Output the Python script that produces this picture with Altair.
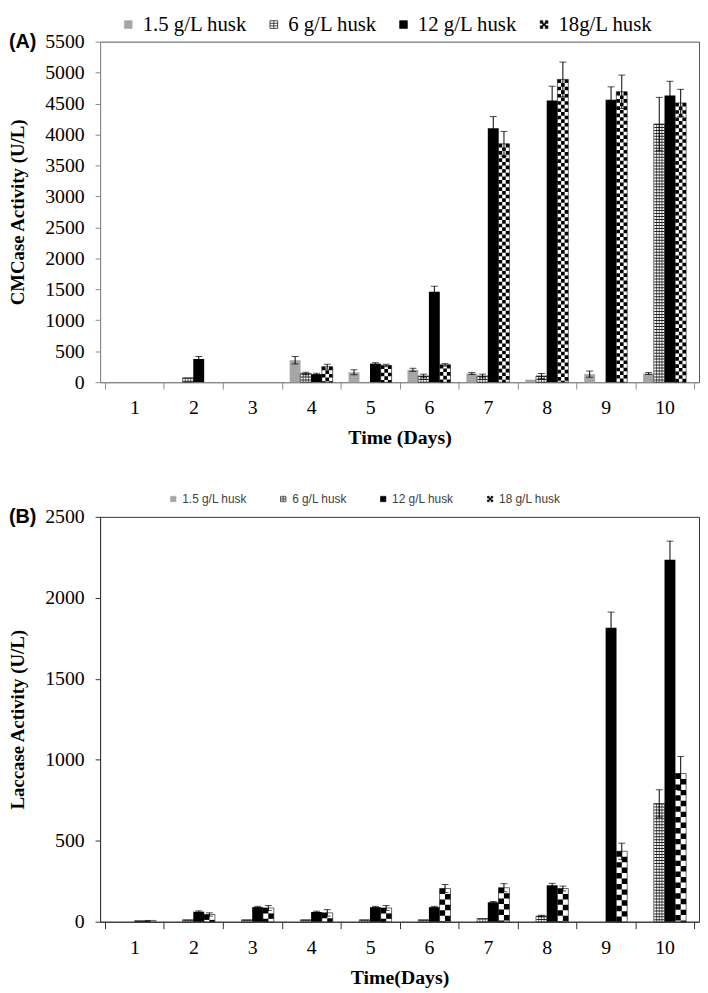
import altair as alt
import pandas as pd

# ---------------- data ----------------
days = [1, 2, 3, 4, 5, 6, 7, 8, 9, 10]
series_a = ["1.5 g/L husk", "6 g/L husk", "12 g/L husk", "18g/L husk"]
series_b = ["1.5 g/L husk", "6 g/L husk", "12 g/L husk", "18 g/L husk"]

# (A) CMCase activity (U/L)
cmc_15 = [0, 0, 0, 355, 160, 200, 140, 40, 130, 140]
cmc_15_err = [0, 0, 0, 60, 40, 25, 15, 0, 50, 15]
cmc_6 = [0, 70, 0, 140, 0, 100, 100, 100, 0, 4170]
cmc_6_err = [0, 0, 0, 20, 0, 30, 30, 40, 0, 430]
cmc_12 = [0, 375, 0, 130, 300, 1460, 4100, 4550, 4560, 4630]
cmc_12_err = [0, 40, 0, 15, 15, 90, 190, 230, 210, 230]
cmc_18 = [0, 0, 0, 250, 270, 280, 3850, 4890, 4690, 4510]
cmc_18_err = [0, 0, 0, 40, 20, 20, 200, 280, 270, 220]

# (B) Laccase activity (U/L)
lac_15 = [3, 0, 0, 0, 0, 0, 0, 0, 0, 0]
lac_15_err = [0, 0, 0, 0, 0, 0, 0, 0, 0, 0]
lac_6 = [0, 12, 12, 12, 12, 12, 20, 35, 0, 730]
lac_6_err = [0, 0, 0, 0, 0, 0, 0, 5, 0, 85]
lac_12 = [8, 62, 90, 60, 90, 90, 120, 225, 1815, 2235]
lac_12_err = [0, 5, 5, 5, 5, 5, 5, 12, 97, 115]
lac_18 = [8, 45, 85, 55, 85, 205, 210, 205, 435, 915]
lac_18_err = [0, 10, 15, 20, 15, 25, 25, 15, 50, 105]

# ---------------- style ----------------
W = 605
HA = 344
HB = 409
BAR = 11.0           # bar width in px
PX = 10.0 / W        # x-units per pixel
GRAY = "#a6a6a6"
SERIF = "Liberation Serif"
SANS = "Liberation Sans"


def long_frame(series, vals, errs):
    rows = []
    for i, (v, e) in enumerate(zip(vals, errs)):
        for d, val, err in zip(days, v, e):
            rows.append(dict(day=d, idx=i, series=series[i], value=val, err=err))
    return pd.DataFrame(rows)


def panel(df, series, ymax, H, ytitle, xtitle, label, dom_color, frame_color,
          n_cols, legend_def, sym_size):
    xs = alt.Scale(domain=[0.5, 10.5], nice=False, zero=False)
    ys = alt.Scale(domain=[0, ymax], nice=False)
    xaxis = alt.Axis(
        values=[0.5 + 0.5 * k for k in range(21)],
        labelExpr="datum.value % 1 === 0 ? format(datum.value, 'd') : ''",
        tickOpacity={"condition": {"test": "datum.value % 1 !== 0", "value": 1}, "value": 0},
        labelOverlap=False, labelFlush=False, grid=False,
        title=xtitle, titleFont=SERIF, titleFontSize=20, titleFontWeight="bold",
        titleColor="black", titlePadding=10,
        labelFont=SERIF, labelFontSize=20, labelColor="black", labelPadding=9,
        domainColor=dom_color, tickColor=dom_color, tickSize=7,
    )
    yaxis = alt.Axis(
        values=list(range(0, ymax + 1, 500)), format="d", grid=False,
        title=ytitle, titleFont=SERIF, titleFontSize=19, titleFontWeight="bold",
        titleColor="black", titlePadding=17,
        labelFont=SERIF, labelFontSize=20, labelColor="black", labelPadding=11,
        domainColor=dom_color, tickColor=dom_color, tickSize=5,
    )

    def X(f="pos"):
        return alt.X(f"{f}:Q", scale=xs, axis=xaxis)

    def Y(f="value"):
        return alt.Y(f"{f}:Q", scale=ys, axis=yaxis)

    base = alt.Chart(df).transform_calculate(
        pos=f"datum.day + (datum.idx - 1.5) * {BAR * PX}",
        lo="datum.value - datum.err",
        hi="datum.value + datum.err",
        z="0",
    )

    def only(i):
        return base.transform_filter(f"datum.idx == {i} && datum.value > 0")

    gray = only(0).mark_bar(size=BAR, color=GRAY, orient="vertical").encode(
        x=X(), y=Y(), y2="z:Q")
    black = only(2).mark_bar(size=BAR, color="black", orient="vertical").encode(
        x=X(), y=Y(), y2="z:Q")

    # hatched (grid) bars for 6 g/L
    hatch_bar = only(1).mark_bar(size=BAR, fill="white", stroke="black",
                                 strokeWidth=0.6, orient="vertical").encode(
        x=X(), y=Y(), y2="z:Q")
    hatch_h = only(1).mark_rule(strokeWidth=BAR - 1, strokeDash=[1, 2],
                                color="#222").encode(x=X(), y=Y(), y2="z:Q")
    hatch_v = only(1).transform_calculate(c="[-1, 0, 1]").transform_flatten(
        ["c"]).transform_calculate(px=f"datum.pos + datum.c * {2.75 * PX}").mark_rule(
        strokeWidth=0.7, color="#222").encode(x=X("px"), y=Y(), y2="z:Q")

    # checkerboard bars for 18 g/L
    check_bar = only(3).mark_bar(size=BAR, fill="white", stroke="black",
                                 strokeWidth=0.6, orient="vertical").encode(
        x=X(), y=Y(), y2="z:Q")
    colw = BAR / n_cols
    check_layers = []
    for j in range(n_cols):
        off = (j - (n_cols - 1) / 2.0) * colw
        lay = only(3).transform_calculate(
            px=f"datum.pos + {off * PX}").mark_rule(
            strokeWidth=colw, strokeDash=[colw, colw],
            strokeDashOffset=(0 if j % 2 == 0 else colw), color="black").encode(
            x=X("px"), y=Y(), y2="z:Q")
        check_layers.append(lay)

    # error bars
    eb = base.transform_filter("datum.err > 0 && datum.value > 0")
    err_rule = eb.mark_rule(color="black", strokeWidth=1).encode(
        x=X(), y=Y("lo"), y2="hi:Q")
    err_cap = eb.transform_fold(["lo", "hi"], as_=["k", "capv"]).mark_tick(
        orient="horizontal", size=7, thickness=1, color="black").encode(
        x=X(), y=Y("capv"))

    # legend (symbols only, from the scale domain)
    shapes = [
        "square",
        "M-1,-1H1V1H-1Z M-1,-0.33H1 M-1,0.33H1 M0,-1V1",
        "square",
        "M-1,-1H-0.33V-0.33H-1Z M0.33,-1H1V-0.33H0.33Z M-0.33,-0.33H0.33V0.33H-0.33Z "
        "M-1,0.33H-0.33V1H-1Z M0.33,0.33H1V1H0.33Z",
    ]
    leg = base.transform_filter("datum.idx < 0").mark_point(
        filled=True, size=sym_size, strokeWidth=0.7, opacity=1).encode(
        x=X(), y=Y(),
        fill=alt.Fill("series:N", scale=alt.Scale(domain=series, range=[GRAY, "white", "black", "black"]),
                      legend=legend_def),
        stroke=alt.Stroke("series:N", scale=alt.Scale(domain=series, range=[GRAY, "black", "black", "black"]),
                          legend=legend_def),
        shape=alt.Shape("series:N", scale=alt.Scale(domain=series, range=shapes),
                        legend=legend_def),
    )

    lab = alt.Chart(pd.DataFrame({"t": [label]})).mark_text(
        align="left", baseline="middle", font=SANS, fontSize=20,
        fontWeight="bold", color="black").encode(
        x=alt.value(-92), y=alt.value(0), text="t:N")

    return alt.layer(
        gray, hatch_bar, hatch_h, hatch_v, black, check_bar, *check_layers,
        err_rule, err_cap, leg, lab
    ).properties(
        width=W, height=H,
        view=alt.ViewBackground(stroke=frame_color, strokeWidth=1),
    )


legend_a = alt.Legend(
    title=None, orient="none", legendX=18, legendY=-28, direction="horizontal",
    labelFont=SERIF, labelFontSize=21, labelColor="black", labelOffset=4,
    columnPadding=16, symbolStrokeWidth=0.7, symbolSize=60, symbolOpacity=1,
)
legend_b = alt.Legend(
    title=None, orient="none", legendX=68, legendY=-24, direction="horizontal",
    labelFont=SANS, labelFontSize=12, labelColor="#404040", labelOffset=3,
    columnPadding=30, symbolStrokeWidth=0.6, symbolSize=30, symbolOpacity=1,
)

df_a = long_frame(series_a, [cmc_15, cmc_6, cmc_12, cmc_18],
                  [cmc_15_err, cmc_6_err, cmc_12_err, cmc_18_err])
df_b = long_frame(series_b, [lac_15, lac_6, lac_12, lac_18],
                  [lac_15_err, lac_6_err, lac_12_err, lac_18_err])

chart_a = panel(df_a, series_a, 5500, HA, "CMCase Activity (U/L)", "Time (Days)", "(A)",
                "#8c8c8c", "#555555", 3, legend_a, 60)
chart_b = panel(df_b, series_b, 2500, HB, "Laccase Activity  (U/L)", "Time(Days)", "(B)",
                "#333333", "#333333", 2, legend_b, 30)

chart = alt.vconcat(chart_a, chart_b, spacing=44).resolve_scale(
    x="independent", y="independent", fill="independent",
    stroke="independent", shape="independent",
).resolve_legend(fill="independent", stroke="independent", shape="independent").properties(
    padding=0
)

chart.save("out.html", embed_options={"renderer": "svg", "actions": False})
